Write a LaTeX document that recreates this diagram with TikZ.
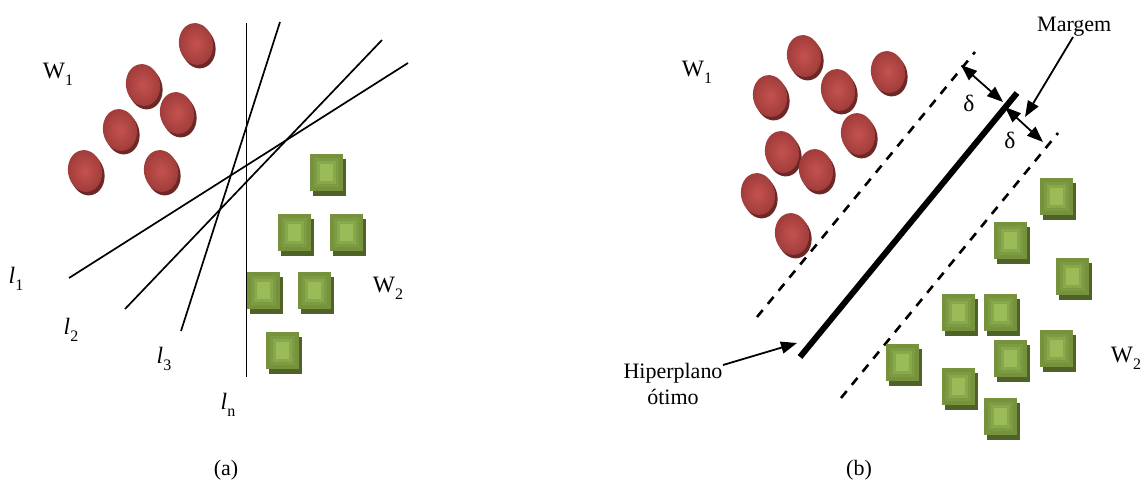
\documentclass[tikz,border=0pt]{standalone}
\usepackage{fontspec}
\setmainfont{Liberation Serif}
\usetikzlibrary{arrows.meta}

\definecolor{blobhi}{HTML}{C4524F}
\definecolor{blobedge}{HTML}{9E3B39}
\definecolor{blobshade}{HTML}{6B2826}
\definecolor{sqA}{HTML}{76923C}
\definecolor{sqB}{HTML}{7D9B42}
\definecolor{sqC}{HTML}{88A84C}
\definecolor{sqD}{HTML}{9BBB59}
\definecolor{sqshade}{HTML}{4F6228}

\newcommand{\sub}[2]{#1\raisebox{-0.3em}{\fontsize{16}{16}\selectfont #2}}
\newcommand{\lsub}[1]{\sub{\textit{l}}{#1}}

\tikzset{
  blob/.pic={
    \fill[blobshade] (2.5,3.5) ellipse [x radius=17pt, y radius=21pt, rotate=10];
    \shade[inner color=blobhi, outer color=blobedge]
      (0,0) ellipse [x radius=17pt, y radius=21pt, rotate=10];
  },
  sqbox/.pic={
    \fill[sqshade] (3,5) rectangle ++(33,37);
    \fill[sqA] (0,0) rectangle ++(33,37);
    \fill[sqB] (4,4) rectangle (29,33);
    \fill[sqC] (7,7) rectangle (26,30);
    \fill[sqD] (10,10) rectangle (23,27);
  },
  lbl/.style={font=\fontsize{22}{26}\selectfont, inner sep=0pt},
  biglbl/.style={font=\fontsize{23.5}{27}\selectfont, inner sep=0pt},
  thinline/.style={line width=1.7pt},
  margin/.style={line width=2.6pt, dash pattern=on 9pt off 8pt},
  hyper/.style={line width=6pt},
  tip/.style={line width=1.8pt, -{Triangle[length=16pt,width=12pt]}},
  dtip/.style={line width=1.8pt, {Triangle[length=16pt,width=12pt]}-{Triangle[length=16pt,width=12pt]}},
}

\begin{document}
\begin{tikzpicture}[x=1pt, y=-1pt]
\useasboundingbox (0,0) rectangle (1144,488);

% ---------------- (a) ----------------
\coordinate (nT) at (246.5,23);
\coordinate (nB) at (246.5,377);
\coordinate (aS) at (69,278);
\coordinate (aE) at (408,63);
\coordinate (bS) at (125,309);
\coordinate (bE) at (382,40);
\coordinate (cS) at (181,331);
\coordinate (cE) at (280,22);
\draw[thinline] (nT) -- (nB);
\draw[thinline] (aS) -- (aE);
\draw[thinline] (bS) -- (bE);
\draw[thinline] (cS) -- (cE);

\foreach \p in {(196,44),(143,85),(177,113),(120,130),(85,171),(161,171)}
  \pic at \p {blob};

\foreach \p in {(310,154),(278,214),(330,214),(247,272),(298,272),(266,332)}
  \pic at \p {sqbox};

\node[biglbl] (wa1) at (58,74) {\sub{W}{1}};
\node[biglbl] (wa2) at (388,288) {\sub{W}{2}};
\node[biglbl] (l1) at (16,279) {\lsub{1}};
\node[biglbl] (l2) at (71,330) {\lsub{2}};
\node[biglbl] (l3) at (164,359) {\lsub{3}};
\node[biglbl] (ln) at (228,405) {\lsub{n}};
\node[lbl] (capa) at (226,470) {(a)};

% ---------------- (b) ----------------
\coordinate (uS) at (757,317);
\coordinate (uE) at (975,52);
\coordinate (hS) at (800,357);
\coordinate (hE) at (1017,93);
\coordinate (dS) at (841,398);
\coordinate (dE) at (1058,133);
\draw[margin] (uS) -- (uE);
\draw[hyper] (hS) -- (hE);
\draw[margin] (dS) -- (dE);

\foreach \p in {(804,56),(888,72),(770,96),(838,90),(858,134),(782,152),(816,170),(758,194),(792,234)}
  \pic at \p {blob};

\foreach \p in {(1040,178),(994,222),(1056,258),(942,294),(984,294),(994,340),(1040,330),(886,344),(942,368),(984,398)}
  \pic at \p {sqbox};

\coordinate (d1a) at (961,65);
\coordinate (d1b) at (1003,102);
\coordinate (d2a) at (1005,107);
\coordinate (d2b) at (1043,142);
\draw[dtip] (d1a) -- (d1b);
\draw[dtip] (d2a) -- (d2b);
\node[biglbl] (delta1) at (969,103) {δ};
\node[biglbl] (delta2) at (1010,140) {δ};

\node[lbl, anchor=base west] (marg) at (1037,31) {Margem};
\coordinate (mT) at (1073,37);
\coordinate (mH) at (1025,117);
\draw[tip] (mT) -- (mH);

\node[lbl, align=center] (hyp) at (673,384) {Hiperplano\\ótimo};
\coordinate (hT) at (723,365);
\coordinate (hH) at (797,343);
\draw[tip] (hT) -- (hH);

\node[biglbl] (wb1) at (697,72) {\sub{W}{1}};
\node[biglbl] (wb2) at (1126,358) {\sub{W}{2}};
\node[lbl] (capb) at (859,470) {(b)};
\end{tikzpicture}
\end{document}
